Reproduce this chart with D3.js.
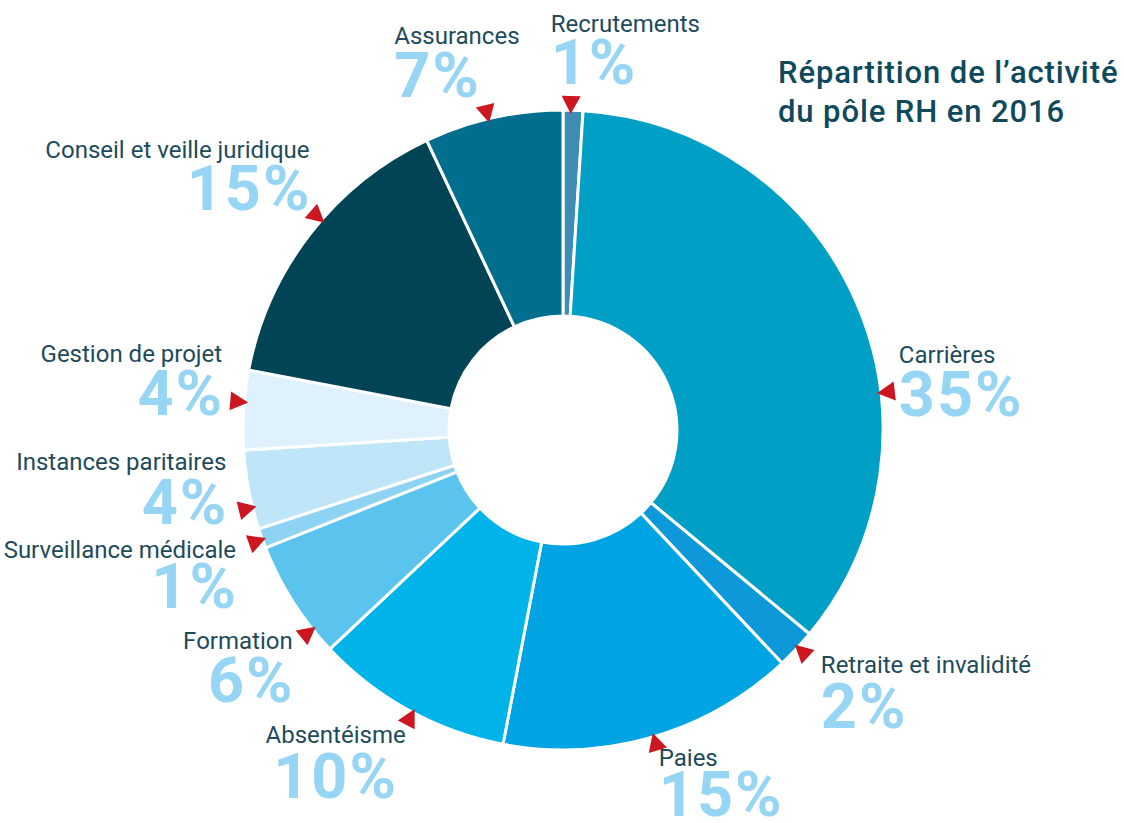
<!DOCTYPE html>
<html>
<head>
	<meta charset="UTF-8">
	<script src="https://d3js.org/d3.v7.min.js"></script>
	<style>
		body{ margin:0; background:#fff; }
		text{ font-family: Roboto, "DejaVu Sans", sans-serif; }
	</style>
</head>
<body>
	<script type="text/javascript">
		// data
		var categories = ["Recrutements", "Carrières", "Retraite et invalidité", "Paies", "Absentéisme", "Formation",
			"Surveillance médicale", "Instances paritaires", "Gestion de projet", "Conseil et veille juridique", "Assurances"];
		var values = [1, 35, 2, 15, 10, 6, 1, 4, 4, 15, 7];
		var colors = ["#3e8db5", "#009fc5", "#0d98da", "#00a4e2", "#00b4e9", "#5ac4ef",
			"#8ed3f4", "#bfe5f9", "#dff1fc", "#004455", "#006e8c"];

		// where the red pointer sits on each slice (degrees clockwise from top)
		var pointerAngles = [1.4, 83.3, 132.8, 163.5, 208, 231.5, 250, 256, 275, 311, 346.5];
		// label offset from pointer tip: [dx, name dy, percent dy, anchor]
		var labelOffsets = [
			[-20, -82, -30, "start"],
			[22, -30, 23, "start"],
			[26, 28, 83, "start"],
			[6, 33, 83, "start"],
			[-79, 34, 89, "middle"],
			[-23, 22, 75, "end"],
			[-30, 20, 70, "end"],
			[-30, -36, 18, "end"],
			[-26, -40, 13, "end"],
			[-15, -65, -13, "end"],
			[-95, -79, -26, "start"]
		];

		var w = 1124, h = 823;
		var cx = 563, cy = 430, R = 320, r = 114;

		var svg = d3.select("body").append("svg").attr("width", w).attr("height", h);
		var g = svg.append("g").attr("transform", "translate(" + cx + "," + cy + ")");

		var pie = d3.pie().sort(null).value(function(d){ return d; });
		var arc = d3.arc().innerRadius(r).outerRadius(R);
		var arcs = pie(values);

		g.selectAll("path.slice").data(arcs).enter().append("path")
			.attr("class", "slice")
			.attr("d", arc)
			.attr("fill", function(d, i){ return colors[i]; })
			.attr("stroke", "#fff")
			.attr("stroke-width", 3)
			.attr("stroke-linejoin", "miter");

		// inner hole cleanup
		g.append("circle").attr("r", r).attr("fill", "#fff");

		var deg = Math.PI / 180;
		var tipR = R - 4;
		function tip(i){
			var a = pointerAngles[i] * deg;
			return [cx + tipR * Math.sin(a), cy - tipR * Math.cos(a)];
		}

		// red pointers
		categories.forEach(function(c, i){
			var p = tip(i);
			svg.append("path")
				.attr("d", "M0,0L18,-9.5L18,9.5Z")
				.attr("fill", "#cc1720")
				.attr("transform", "translate(" + p[0] + "," + p[1] + ") rotate(" + (pointerAngles[i] - 90) + ")");
		});

		// labels
		categories.forEach(function(c, i){
			var p = tip(i), o = labelOffsets[i];
			svg.append("text")
				.attr("x", p[0] + o[0]).attr("y", p[1] + o[1])
				.attr("text-anchor", o[3])
				.style("font-size", "24px")
				.attr("fill", "#1d4b5c")
				.text(c);
			svg.append("text")
				.attr("x", p[0] + o[0] + (o[3] == "end" ? 2 : 0)).attr("y", p[1] + o[2])
				.attr("text-anchor", o[3])
				.style("font-size", "63px")
				.style("font-weight", 700)
				.style("letter-spacing", "2px")
				.attr("fill", "#97d5f5")
				.text(values[i] + "%");
		});

		// title
		svg.append("text").attr("x", 778).attr("y", 83)
			.style("font-size", "31px").style("font-weight", 500).style("letter-spacing", "0.9px").attr("fill", "#0e4a5c")
			.text("Répartition de l’activité");
		svg.append("text").attr("x", 778).attr("y", 122)
			.style("font-size", "31px").style("font-weight", 500).style("letter-spacing", "0.9px").attr("fill", "#0e4a5c")
			.text("du pôle RH en 2016");
	</script>
</body>
</html>
